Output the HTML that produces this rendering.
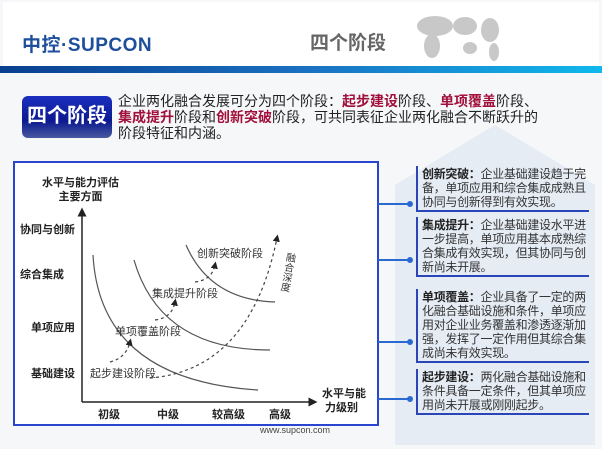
<!DOCTYPE html>
<html><head><meta charset="utf-8"><style>
*{margin:0;padding:0;box-sizing:border-box}
body{width:602px;height:449px;position:relative;overflow:hidden;background:#fff;font-family:"Liberation Sans","Noto Sans CJK SC",sans-serif}
.a{position:absolute;white-space:nowrap}
.r{color:#a0103a;font-weight:bold}
.ent{position:absolute;left:416px;width:173px;border-left:2px solid #2a45b8;border-bottom:2px solid #2a45b8;font-size:12px;line-height:14px;color:#333;padding:1px 0 1px 4px;letter-spacing:-0.3px}
.ent b{color:#222}
.ln{position:absolute;left:378px;height:2px;background:#2a6ad0}
.dot{position:absolute;width:6px;height:6px;border-radius:3px;background:#2a6ad0}
.yl{position:absolute;left:20px;font-size:11px;font-weight:bold;color:#222}
</style></head><body>
<div class="a" style="left:0;top:0;width:602px;height:449px;background:#f6f7f9"></div>
<div class="a" style="left:3px;top:2px;width:596px;height:66px;background:#fff"></div>
<svg class="a" style="left:395px;top:125px" width="205" height="322"><polygon points="0,60 100,0 200,60 200,320 0,320" fill="#e6ecf4"/></svg>
<div class="a" style="left:0;top:66px;width:602px;height:7px;background:linear-gradient(90deg,#0a3f8f,#1a6fc0 50%,#10b8ec)"></div>
<div class="a" style="left:22px;top:30px;font-size:19px;font-weight:bold;color:#1d4f9c;letter-spacing:0.5px">中控·SUPCON</div>
<div class="a" style="left:310px;top:28px;font-size:19px;font-weight:bold;color:#666">四个阶段</div>
<svg class="a" style="left:410px;top:8px" width="95" height="56"><g fill="#c8c8c8"><ellipse cx="25" cy="18" rx="18" ry="10"/><ellipse cx="22" cy="38" rx="8" ry="12"/><ellipse cx="55" cy="18" rx="12" ry="9"/><ellipse cx="60" cy="40" rx="7" ry="6"/><ellipse cx="80" cy="22" rx="9" ry="12"/><ellipse cx="84" cy="44" rx="5" ry="9"/></g></svg>
<div class="a" style="left:22px;top:96px;width:90px;height:42px;border-radius:6px;background:linear-gradient(#1a2fbf,#0b1a90 60%,#4a5aa0);color:#fff;font-size:20px;font-weight:bold;text-align:center;line-height:40px">四个阶段</div>
<div class="a" style="left:118px;top:93px;font-size:14px;line-height:16px;color:#222;white-space:normal;width:480px">企业两化融合发展可分为四个阶段：<span class="r">起步建设</span>阶段、<span class="r">单项覆盖</span>阶段、<br><span class="r">集成提升</span>阶段和<span class="r">创新突破</span>阶段，可共同表征企业两化融合不断跃升的<br>阶段特征和内涵。</div>
<div class="a" style="left:13px;top:161px;width:366px;height:265px;border:2px solid #2a45d0;background:#fff"></div>
<svg class="a" style="left:0;top:0" width="400" height="449">
<defs><marker id="m" markerWidth="6" markerHeight="6" refX="3" refY="3" orient="auto"><path d="M0,0L6,3L0,6z" fill="#222"/></marker></defs>
<line x1="82" y1="402" x2="82" y2="212" stroke="#222" stroke-width="1.5" marker-end="url(#m)"/>
<line x1="82" y1="402" x2="313" y2="402" stroke="#222" stroke-width="1.5" marker-end="url(#m)"/>
<g fill="none" stroke="#555" stroke-width="1.2">
<path d="M93,255 Q100,380 258,390"/>
<path d="M134,260 Q160,350 270,350"/>
<path d="M186,245 Q210,300 275,302"/>
</g>
<g fill="none" stroke="#444" stroke-width="1.2" stroke-dasharray="3,3">
<path d="M150,378 Q250,370 277,238" marker-end="url(#m)"/>
<path d="M110,362 Q126,358 130,342" marker-end="url(#m)"/>
<path d="M155,320 Q172,318 175,302" marker-end="url(#m)"/>
<path d="M195,282 Q212,280 215,265" marker-end="url(#m)"/>
</g>
</svg>
<div class="a" style="left:42px;top:176px;font-size:11px;font-weight:bold;line-height:14px;text-align:center;color:#222">水平与能力评估<br>主要方面</div>
<div class="yl" style="top:221px">协同与创新</div>
<div class="yl" style="top:266px">综合集成</div>
<div class="yl" style="left:31px;top:319px">单项应用</div>
<div class="yl" style="left:31px;top:365px">基础建设</div>
<div class="a" style="left:90px;top:365px;font-size:11px;color:#333">起步建设阶段</div>
<div class="a" style="left:115px;top:323px;font-size:11px;color:#333">单项覆盖阶段</div>
<div class="a" style="left:152px;top:285px;font-size:11px;color:#333">集成提升阶段</div>
<div class="a" style="left:197px;top:245px;font-size:11px;color:#333">创新突破阶段</div>
<div class="a" style="left:279px;top:252px;font-size:10px;color:#333;writing-mode:vertical-rl;transform:rotate(10deg)">融合深度</div>
<div class="a" style="left:98px;top:406px;font-size:11px;font-weight:bold;color:#222">初级</div>
<div class="a" style="left:157px;top:406px;font-size:11px;font-weight:bold;color:#222">中级</div>
<div class="a" style="left:212px;top:406px;font-size:11px;font-weight:bold;color:#222">较高级</div>
<div class="a" style="left:269px;top:406px;font-size:11px;font-weight:bold;color:#222">高级</div>
<div class="a" style="left:322px;top:387px;font-size:11px;font-weight:bold;line-height:14px;color:#222">水平与能<br>&nbsp;力级别</div>
<div class="a" style="left:260px;top:425px;font-size:9px;color:#444">www.supcon.com</div>
<div class="ln" style="top:203px;width:32px"></div><div class="dot" style="left:407px;top:201px"></div>
<div class="ln" style="top:259px;width:32px"></div><div class="dot" style="left:407px;top:257px"></div>
<div class="ln" style="top:341px;width:32px"></div><div class="dot" style="left:407px;top:339px"></div>
<div class="ln" style="top:398px;width:32px"></div><div class="dot" style="left:407px;top:396px"></div>
<div class="ent" style="top:166px"><b>创新突破：</b>企业基础建设趋于完备，单项应用和综合集成成熟且协同与创新得到有效实现。</div>
<div class="ent" style="top:217px"><b>集成提升：</b>企业基础建设水平进一步提高，单项应用基本成熟综合集成有效实现，但其协同与创新尚未开展。</div>
<div class="ent" style="top:289px"><b>单项覆盖：</b>企业具备了一定的两化融合基础设施和条件，单项应用对企业业务覆盖和渗透逐渐加强，发挥了一定作用但其综合集成尚未有效实现。</div>
<div class="ent" style="top:369px"><b>起步建设：</b>两化融合基础设施和条件具备一定条件，但其单项应用尚未开展或刚刚起步。</div>
</body></html>
